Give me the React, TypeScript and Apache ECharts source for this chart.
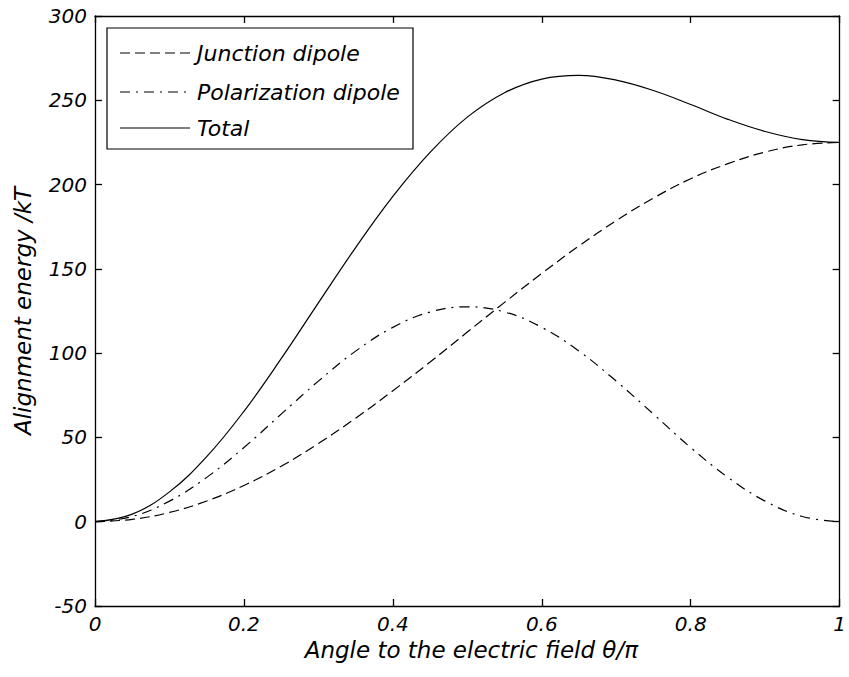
import React, { useEffect, useRef } from "react";
import * as echarts from "echarts";

const angles = [0, 0.05, 0.1, 0.15, 0.2, 0.25, 0.3, 0.35, 0.4, 0.45, 0.5, 0.55, 0.6, 0.65, 0.7, 0.75, 0.8, 0.85, 0.9, 0.95, 1];
const junction = [0, 1.4, 5.5, 12.3, 21.5, 32.9, 46.4, 61.4, 77.7, 94.7, 112.5, 130.1, 147.3, 163.6, 178.6, 192.0, 203.5, 212.4, 219.3, 223.6, 225];
const polarization = [0, 3.1, 12.2, 26.3, 44.0, 63.8, 83.4, 101.2, 115.3, 124.4, 127.5, 124.4, 115.3, 101.2, 83.4, 63.8, 44.0, 26.3, 12.2, 3.1, 0];
const total = [0, 4.5, 17.7, 38.6, 65.5, 96.7, 129.8, 162.6, 193.0, 219.1, 240.0, 254.5, 262.6, 264.8, 262.0, 255.8, 247.5, 238.7, 231.5, 226.7, 225];
const seriesNames = ["Junction dipole", "Polarization dipole", "Total"];

const FONT = "DejaVu Sans";

export default function App() {
  const ref = useRef<HTMLDivElement>(null);
  useEffect(() => {
    document.body.style.margin = "0";
    document.body.style.overflow = "hidden";
    document.documentElement.style.overflow = "hidden";
    const chart = echarts.init(ref.current!, null, { renderer: "svg" });
    const pair = (ys: number[]) => angles.map((x, i) => [x, ys[i]]);
    const tickStyle = { color: "#000", fontFamily: FONT, fontStyle: "italic" as const, fontSize: 20 };
    const nameStyle = { color: "#000", fontFamily: FONT, fontStyle: "italic" as const, fontSize: 23 };
    const axisLine = { show: true, onZero: false, lineStyle: { color: "#000", width: 1.3 } };
    const axisTick = { show: true, inside: true, length: 7, lineStyle: { color: "#000", width: 1.3 } };
    const dashes: any[] = [[10, 5], [10, 6, 2, 6], "solid"];
    const datas = [junction, polarization, total];
    const legendYs = [53, 92, 128];
    chart.setOption({
      animation: false,
      backgroundColor: "#fff",
      grid: { left: 95, right: 4, top: 16, bottom: 71, containLabel: false },
      xAxis: [
        {
          type: "value", min: 0, max: 1, interval: 0.2, position: "bottom",
          axisLine, axisTick, splitLine: { show: false },
          axisLabel: { ...tickStyle, margin: 8, formatter: (v: number) => String(Number(v.toFixed(1))) },
          name: "Angle to the electric field θ/π", nameLocation: "middle", nameGap: 32,
          nameTextStyle: { ...nameStyle, padding: [0, 0, 0, 8] },
        },
        {
          type: "value", min: 0, max: 1, interval: 0.2, position: "top",
          axisLine, axisTick, splitLine: { show: false }, axisLabel: { show: false },
        },
      ],
      yAxis: [
        {
          type: "value", min: -50, max: 300, interval: 50, position: "left",
          axisLine, axisTick, splitLine: { show: false },
          axisLabel: { ...tickStyle, margin: 8 },
          name: "Alignment energy /kT", nameLocation: "middle", nameGap: 61,
          nameTextStyle: nameStyle,
        },
        {
          type: "value", min: -50, max: 300, interval: 50, position: "right",
          axisLine, axisTick, splitLine: { show: false }, axisLabel: { show: false },
        },
      ],
      series: datas.map((d, i) => ({
        name: seriesNames[i],
        type: "line",
        data: pair(d),
        smooth: 0.4,
        showSymbol: false,
        symbol: "none",
        lineStyle: { color: "#000", width: 1.2, type: dashes[i] },
        z: 3,
      })),
      graphic: [
        {
          type: "rect", shape: { x: 107, y: 28, width: 306, height: 121 },
          style: { fill: "#fff", stroke: "#000", lineWidth: 1.2 }, z: 10,
        },
        ...seriesNames.map((n, i) => ({
          type: "line",
          shape: { x1: 120, y1: legendYs[i], x2: 190, y2: legendYs[i] },
          style: { stroke: "#000", lineWidth: 1.2, lineDash: i === 2 ? null : dashes[i] },
          z: 11,
        })),
        ...seriesNames.map((n, i) => ({
          type: "text", x: 197, y: legendYs[i],
          style: { text: n, fill: "#000", font: `italic 22px '${FONT}'`, verticalAlign: "middle", align: "left" },
          z: 11,
        })),
      ],
    });
    return () => chart.dispose();
  }, []);
  return <div ref={ref} style={{ width: 849, height: 677 }} />;
}
